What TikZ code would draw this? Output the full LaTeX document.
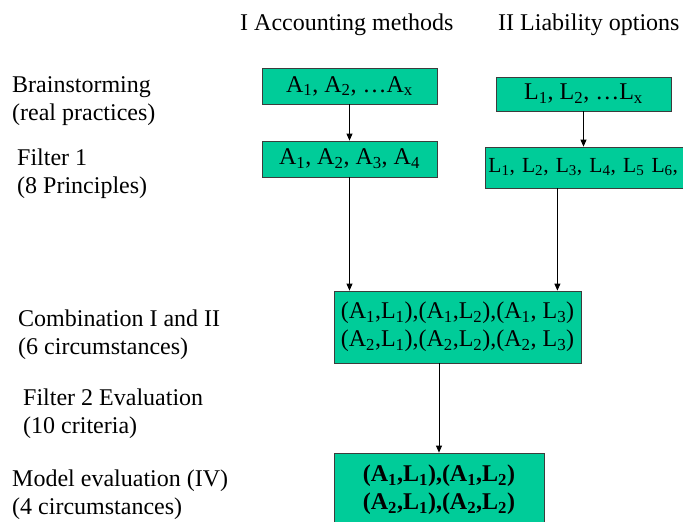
\documentclass[tikz,border=0pt]{standalone}
\usepackage{xcolor}
\usepackage{fontspec}
\setmainfont{Liberation Serif}
\usepackage{tikz}
\usetikzlibrary{arrows.meta}
\definecolor{boxgreen}{RGB}{0, 204, 153}
\definecolor{boxline}{RGB}{60, 60, 60}
\newcommand{\lo}[1]{\textsubscript{#1}}

\tikzset{
    stepbox/.style={draw=boxline, fill=boxgreen, line width=0.8pt, inner sep=0pt, align=center},
    stagelabel/.style={anchor=west, inner sep=0pt, align=left},
    flow/.style={-{Triangle[length=7pt,width=6pt]}, line width=0.8pt}
}

\begin{document}
\begin{tikzpicture}[x=1pt, y=-1pt, every node/.style={font=\fontsize{24}{28}\selectfont}]
    \useasboundingbox (0,0) rectangle (683,522);

    % column headings
    \node[anchor=base west, inner sep=0pt] (headAcc) at (240,30) {I Accounting methods};
    \node[anchor=base west, inner sep=0pt] (headLia) at (498,30) {II Liability options};

    % stage labels
    \node[stagelabel] (stageBrain) at (12,101) {Brainstorming\\(real practices)};
    \node[stagelabel] (stageFilterA) at (17,174) {Filter 1\\(8 Principles)};
    \node[stagelabel] (stageComb) at (18,335) {Combination I and II\\(6 circumstances)};
    \node[stagelabel] (stageFilterB) at (23,414) {Filter 2 Evaluation\\(10 criteria)};
    \node[stagelabel] (stageModel) at (12,495) {Model evaluation (IV)\\(4 circumstances)};

    % boxes
    \node[stepbox, minimum width=175pt, minimum height=36pt] (accAll) at (349.5,86) {A\lo{1}, A\lo{2}, …A\lo{x}};
    \node[stepbox, minimum width=175pt, minimum height=34pt] (liaAll) at (583.5,94) {L\lo{1}, L\lo{2}, …L\lo{x}};
    \node[stepbox, minimum width=175pt, minimum height=36pt] (accSel) at (349.5,159) {A\lo{1}, A\lo{2}, A\lo{3}, A\lo{4}};
    \node[stepbox, anchor=west, minimum height=41pt, inner xsep=3pt, text width=235pt, align=left, font=\fontsize{21.5}{26}\selectfont] (liaSel) at (485,167.5) {L\lo{1}, L\lo{2}, L\lo{3}, L\lo{4}, L\lo{5} L\lo{6},};
    \node[stepbox, minimum width=247pt, minimum height=72pt] (combo) at (457.5,327) {(A\lo{1},L\lo{1}),(A\lo{1},L\lo{2}),(A\lo{1}, L\lo{3})\\(A\lo{2},L\lo{1}),(A\lo{2},L\lo{2}),(A\lo{2}, L\lo{3})};
    \node[stepbox, minimum width=210pt, minimum height=74pt, font=\fontsize{24}{28}\selectfont\bfseries] (model) at (439,490) {(A\lo{1},L\lo{1}),(A\lo{1},L\lo{2})\\(A\lo{2},L\lo{1}),(A\lo{2},L\lo{2})};

    % arrows
    \draw[flow] (accAll.south) -- (accSel.north);
    \draw[flow] (liaAll.south) -- (liaAll.south |- liaSel.north);
    \draw[flow] (accSel.south) -- (accSel.south |- combo.north);
    \draw[flow] ([xshift=-24pt]combo.north east |- liaSel.south) -- ([xshift=-24pt]combo.north east);
    \draw[flow] (model.north |- combo.south) -- (model.north);
\end{tikzpicture}
\end{document}
